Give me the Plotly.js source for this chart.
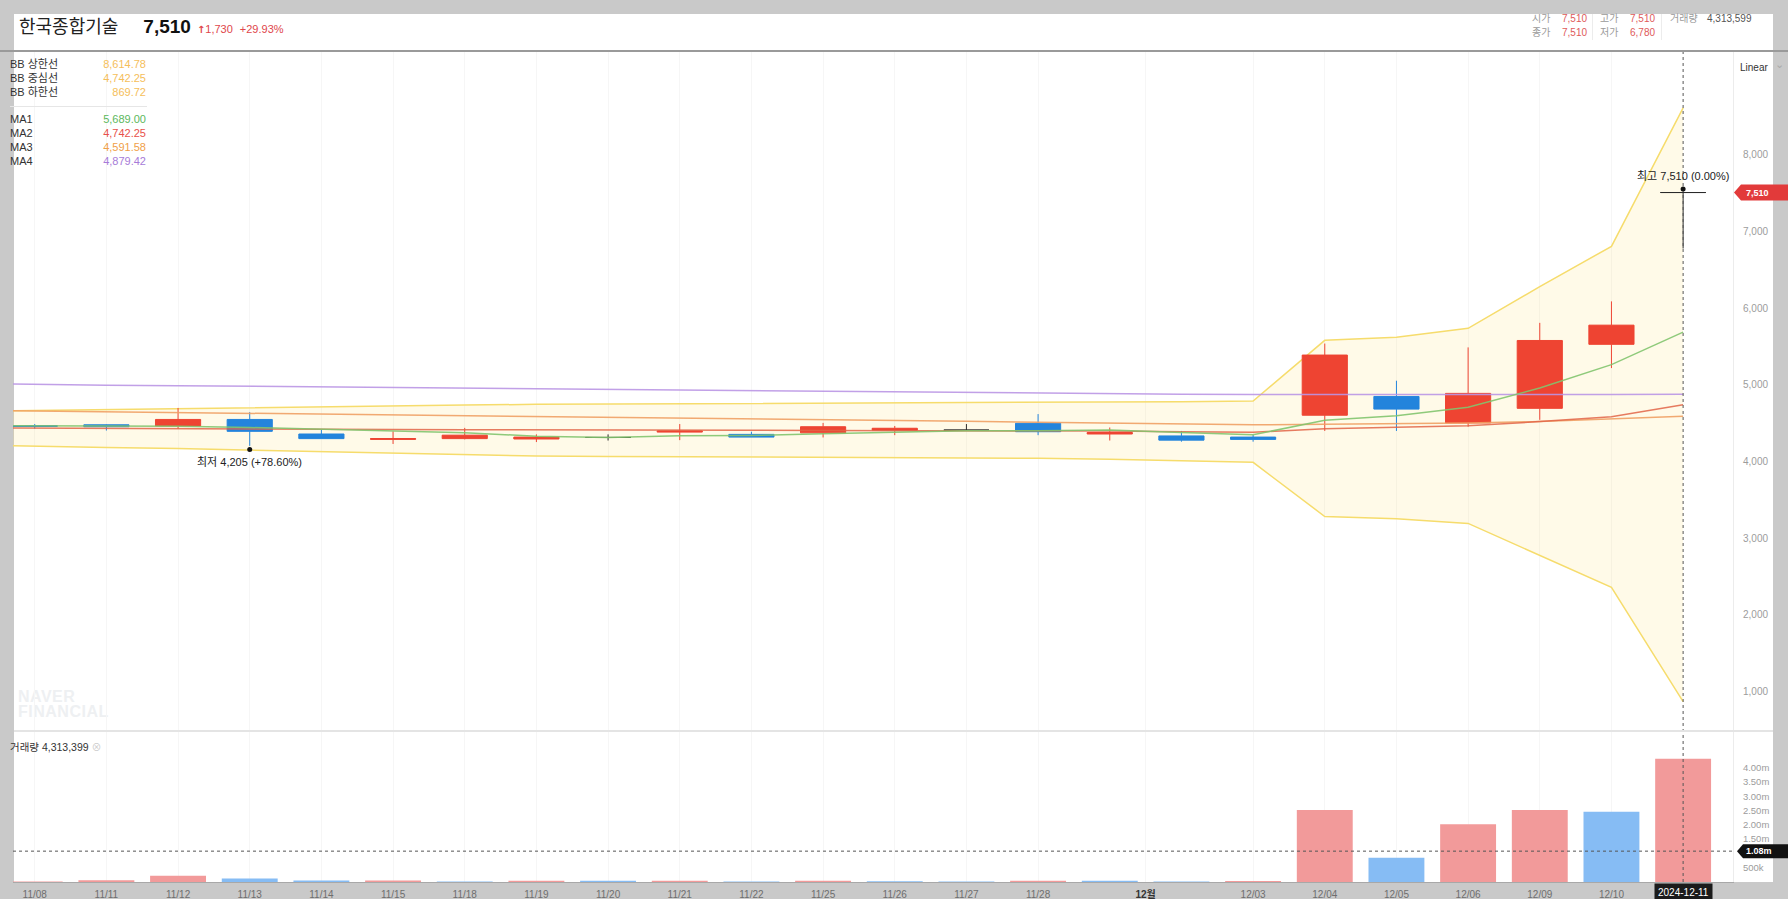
<!DOCTYPE html>
<html>
<head>
<meta charset="utf-8">
<script src="https://cdn.plot.ly/plotly-3.0.1.min.js"></script>
<style>
html,body{margin:0;padding:0;}
body{width:1788px;height:899px;background:#c9c9c9;position:relative;overflow:hidden;
  font-family:'Liberation Sans','Noto Sans CJK KR',Arial,sans-serif;}
#frame{position:absolute;left:14px;top:14px;width:1759px;height:868px;background:#fff;}
#chart{position:absolute;left:0;top:0;width:1788px;height:899px;z-index:2;}
.t{position:absolute;white-space:nowrap;pointer-events:none;z-index:5;}
#hdrline{position:absolute;left:0;top:50px;width:1788px;height:2px;background:#9a9a9a;z-index:4;}
#paneline{position:absolute;left:14px;top:730px;width:1759px;height:2px;background:#e4e4e4;z-index:4;}
#legsep{position:absolute;left:10px;top:106px;width:137px;height:1px;background:#e6e6e6;z-index:5;}
</style>
</head>
<body>
<div id="frame"></div>
<div id="chart"></div>
<div id="hdrline"></div>
<div id="paneline"></div>
<div id="legsep"></div>
<div id="texts"></div>
<script>
// ---------------- DATA ----------------
const stockName = '한국종합기술';
const lastPrice = '7,510';
const priceChange = '1,730';
const priceChangePct = '+29.93%';
const infoLabels = ['시가', '고가', '종가', '저가'];
const infoValues = ['7,510', '7,510', '7,510', '6,780'];
const infoVolumeLabel = '거래량';
const infoVolumeValue = '4,313,599';
const volumePaneTitle = '거래량 4,313,399';

const legendLabels = ['BB 상한선', 'BB 중심선', 'BB 하한선', 'MA1', 'MA2', 'MA3', 'MA4'];
const legendValues = ['8,614.78', '4,742.25', '869.72', '5,689.00', '4,742.25', '4,591.58', '4,879.42'];

const candleDates = ['11/08','11/11','11/12','11/13','11/14','11/15','11/18','11/19','11/20','11/21','11/22','11/25',
  '11/26','11/27','11/28','11/29','12/02','12/03','12/04','12/05','12/06','12/09','12/10','12/11'];
const openP  = [4470,4480,4465,4550,4360,4290,4300,4295,4315,4385,4355,4375,4410,4410,4500,4360,4335,4320,4605,4850,4505,4695,5530,7510];
const highP  = [4490,4485,4700,4645,4420,4395,4440,4355,4355,4490,4390,4505,4465,4490,4620,4445,4400,4350,5540,5055,5490,5810,6090,7510];
const lowP   = [4430,4405,4430,4205,4300,4230,4290,4255,4275,4280,4320,4315,4345,4405,4345,4275,4260,4260,4400,4400,4455,4545,5220,6780];
const closeP = [4460,4455,4550,4395,4300,4300,4345,4320,4315,4400,4320,4455,4435,4410,4390,4380,4280,4290,5390,4685,4890,5580,5780,7510];
const volume = [20000,60000,220000,120000,50000,55000,20000,45000,40000,45000,20000,45000,
  25000,20000,45000,40000,20000,35000,2520000,850000,2020000,2520000,2460000,4313599];

// indicator lines start one session earlier (11/07) so they reach the left edge
const lineDates = ['11/07'].concat(candleDates);
const bbUpper = [4655,4668,4680,4693,4705,4716,4727,4737,4747,4750,4753,4756,4759,4762,4765,4768,4775,4782,4790,5582,5621,5739,6282,6808,8615];
const bbLower = [4220,4200,4185,4170,4150,4125,4105,4085,4073,4068,4064,4060,4056,4052,4048,4043,4030,4010,3991,3284,3254,3194,2778,2360,870];
const ma1 = [4470,4468,4466,4462,4445,4420,4400,4378,4330,4316,4336,4340,4362,4385,4404,4402,4412,4379,4350,4539,4599,4708,4960,5265,5689];
const ma2 = [4440,4435,4432,4430,4427,4424,4420,4416,4412,4410,4409,4408,4407,4406,4405,4403,4398,4390,4382,4430,4445,4468,4522,4586,4742];
const ma3 = [4672,4662,4652,4642,4632,4622,4612,4603,4595,4583,4572,4560,4548,4536,4525,4513,4500,4490,4480,4487,4495,4505,4522,4555,4592];
const ma4 = [5020,5005,4997,4990,4982,4973,4965,4957,4948,4940,4931,4922,4913,4905,4897,4889,4883,4879,4876,4874,4873,4873,4875,4877,4879];

const xTickLabels = ['11/08','11/11','11/12','11/13','11/14','11/15','11/18','11/19','11/20','11/21','11/22','11/25',
  '11/26','11/27','11/28','12월','12/03','12/04','12/05','12/06','12/09','12/10'];
const monthMark = {label: '12월', between: ['11/29', '12/02']};
const lastDateLabel = '2024-12-11';
const priceTicks = [1000,2000,3000,4000,5000,6000,7000,8000];
const volTickVals = [500000,1500000,2000000,2500000,3000000,3500000,4000000];
const volTickText = ['500k','1.50m','2.00m','2.50m','3.00m','3.50m','4.00m'];
const crossVolume = 1080000;
const crossVolumeText = '1.08m';
const highLabel = '최고 7,510 (0.00%)';
const lowLabel = '최저 4,205 (+78.60%)';

// ---------------- STYLE ----------------
const RED = '#ee4432', BLUE = '#2384dc', FLAT = '#2b2b2b';
const VOL_RED = '#f29a9a', VOL_BLUE = '#86bcf4';
const legendColors = ['#f5be5a','#f5be5a','#f5be5a','#5cb85c','#e8504a','#f0a048','#a77bd8'];
const FONT = "'Liberation Sans','Noto Sans CJK KR',Arial,sans-serif";

// ---------------- HTML TEXTS ----------------
const T = document.getElementById('texts');
function addText(html, css) {
  const d = document.createElement('div');
  d.className = 't';
  d.innerHTML = html;
  Object.assign(d.style, css);
  T.appendChild(d);
  return d;
}
addText(
  '<span style="font-size:18px;color:#222;font-family:\'Noto Sans CJK KR\',sans-serif;">' + stockName + '</span>' +
  '<span style="font-size:19px;font-weight:bold;color:#111;margin-left:25px;">' + lastPrice + '</span>' +
  '<span style="font-size:11px;color:#e0464b;margin-left:6px;"><b style="font-family:DejaVu Sans;font-size:10px;">&#8593;</b>' + priceChange + '</span>' +
  '<span style="font-size:11px;color:#e0464b;margin-left:7px;">' + priceChangePct + '</span>',
  {left: '19px', top: '12px', lineHeight: '26px', display: 'flex', alignItems: 'baseline'});

// top-right info
const infoCols = [1532, 1600];
const infoRows = [19, 33];
const infoPos = [[0,0],[1,0],[0,1],[1,1]];
infoLabels.forEach((lab, i) => {
  const [c, r] = infoPos[i];
  addText(lab, {left: infoCols[c] + 'px', top: (infoRows[r] - 7) + 'px', fontSize: '10px', color: '#9a9a9a', lineHeight: '14px'});
  addText(infoValues[i], {left: (infoCols[c] + 30) + 'px', top: (infoRows[r] - 7) + 'px', fontSize: '10px', color: '#e05a5a', lineHeight: '14px'});
});
addText(infoVolumeLabel, {left: '1670px', top: '12px', fontSize: '10px', color: '#9a9a9a', lineHeight: '14px'});
addText(infoVolumeValue, {left: '1707px', top: '12px', fontSize: '10px', color: '#555', lineHeight: '14px'});
[1592, 1661].forEach(x => {
  addText('', {left: x + 'px', top: '14px', width: '1px', height: '26px', background: '#ececec'});
});

// legend block
const legendY = [64, 78, 92, 119, 133, 147, 161];
legendLabels.forEach((lab, i) => {
  addText(lab, {left: '10px', top: (legendY[i] - 7) + 'px', fontSize: '11px', color: '#333', lineHeight: '14px'});
  addText(legendValues[i], {left: '60px', width: '86px', textAlign: 'right', top: (legendY[i] - 7) + 'px',
    fontSize: '11px', color: legendColors[i], lineHeight: '14px'});
});

addText('Linear', {left: '1740px', top: '61px', fontSize: '10px', color: '#333', lineHeight: '14px'});
addText('&#8964;', {left: '1775px', top: '58px', fontSize: '11px', color: '#aaa', lineHeight: '14px', fontFamily: 'DejaVu Sans'});
addText(volumePaneTitle + ' <span style="color:#ccc;font-size:10px;">&#8855;</span>',
  {left: '10px', top: '740px', fontSize: '10.5px', color: '#333', lineHeight: '14px'});
addText('NAVER<br>FINANCIAL', {left: '18px', top: '689px', fontSize: '16px', fontWeight: 'bold', color: '#eef0f2',
  lineHeight: '15px', letterSpacing: '0.5px', zIndex: 1});

// ---------------- PLOTLY ----------------
const idx = candleDates.map((d, i) => i);
const lineX = lineDates.map((d, i) => i - 1);

function candleTrace(filterFn, color) {
  const sel = idx.filter(filterFn);
  return {
    type: 'candlestick', xaxis: 'x', yaxis: 'y3',
    x: sel, open: sel.map(i => openP[i]), high: sel.map(i => highP[i]),
    low: sel.map(i => lowP[i]), close: sel.map(i => closeP[i]),
    increasing: {line: {color: color, width: 1}, fillcolor: color},
    decreasing: {line: {color: color, width: 1}, fillcolor: color},
    whiskerwidth: 0, hoverinfo: 'skip', showlegend: false
  };
}
function lineTrace(vals, color, yaxis, extra) {
  return Object.assign({
    type: 'scatter', mode: 'lines', x: lineX, y: vals, xaxis: 'x', yaxis: yaxis,
    line: {color: color, width: 1.5}, hoverinfo: 'skip', showlegend: false
  }, extra || {});
}

const volColors = volume.map((v, i) => (i === 0 || v >= volume[i - 1]) ? VOL_RED : VOL_BLUE);

const traces = [
  lineTrace(bbLower, '#f6dc6c', 'y'),
  lineTrace(bbUpper, '#f6dc6c', 'y', {fill: 'tonexty', fillcolor: 'rgba(255,226,110,0.16)'}),
  candleTrace(i => closeP[i] > openP[i], RED),
  candleTrace(i => closeP[i] < openP[i], BLUE),
  candleTrace(i => closeP[i] === openP[i], FLAT),
  lineTrace(ma4, 'rgba(186,150,228,0.9)', 'y3'),
  lineTrace(ma3, 'rgba(240,160,100,0.9)', 'y3'),
  lineTrace(ma2, 'rgba(226,100,70,0.85)', 'y3'),
  lineTrace(ma1, 'rgba(130,196,110,0.9)', 'y3'),
  {type: 'bar', x: idx, y: volume, xaxis: 'x', yaxis: 'y2', width: 0.78,
   marker: {color: volColors, line: {width: 0}}, hoverinfo: 'skip', showlegend: false}
];

const tickVals = xTickLabels.map(l => l === monthMark.label
  ? (candleDates.indexOf(monthMark.between[0]) + candleDates.indexOf(monthMark.between[1])) / 2
  : candleDates.indexOf(l));
const tickText = xTickLabels.map(l => l === monthMark.label ? '<b style="color:#333">' + l + '</b>' : l);

const lastI = candleDates.length - 1;
const lowI = lowP.indexOf(Math.min.apply(null, lowP));
const highI = highP.indexOf(Math.max.apply(null, highP));
const PRANGE = [499, 9356];
const VRANGE = [0, 5.285e6];

const layout = {
  width: 1788, height: 899,
  margin: {l: 13, r: 55, t: 51, b: 17, pad: 0},
  paper_bgcolor: 'rgba(0,0,0,0)', plot_bgcolor: 'rgba(0,0,0,0)',
  font: {family: FONT, size: 10, color: '#999'},
  showlegend: false,
  boxgap: 0.37, boxgroupgap: 0,
  bargap: 0.22,
  xaxis: {
    range: [-0.303, 23.696], anchor: 'y2', tickmode: 'array', tickvals: tickVals, ticktext: tickText,
    rangeslider: {visible: false},
    showgrid: true, gridcolor: '#f6f6f6', gridwidth: 1, zeroline: false,
    showline: true, linecolor: '#a8a8a8', linewidth: 1,
    ticks: 'outside', ticklen: 3, tickcolor: 'rgba(0,0,0,0)',
    tickfont: {family: FONT, size: 10, color: '#6e6e6e'}, fixedrange: true
  },
  yaxis: {
    domain: [0.1829, 1], range: PRANGE, side: 'right', tickmode: 'array', tickvals: priceTicks,
    tickformat: ',d', showgrid: false, zeroline: false, showline: true, linecolor: '#ececec',
    ticks: 'outside', ticklen: 7, tickcolor: 'rgba(0,0,0,0)',
    tickfont: {family: FONT, size: 10, color: '#9c9c9c'}, fixedrange: true
  },
  yaxis3: {overlaying: 'y', range: PRANGE, side: 'right', showticklabels: false, showgrid: false,
    zeroline: false, showline: false, ticks: '', fixedrange: true},
  yaxis2: {
    domain: [0, 0.1817], range: VRANGE, side: 'right', tickmode: 'array', tickvals: volTickVals,
    ticktext: volTickText, showgrid: false, zeroline: false, showline: true, linecolor: '#ececec',
    ticks: 'outside', ticklen: 7, tickcolor: 'rgba(0,0,0,0)',
    tickfont: {family: FONT, size: 9.5, color: '#9c9c9c'}, fixedrange: true
  },
  shapes: [
    {type: 'line', xref: 'x', yref: 'paper', x0: lastI, x1: lastI, y0: 0, y1: 1,
     line: {color: '#555', width: 1, dash: 'dot'}, layer: 'above'},
    {type: 'line', xref: 'paper', yref: 'y2', x0: 0, x1: 1, y0: crossVolume, y1: crossVolume,
     line: {color: '#555', width: 1, dash: 'dot'}, layer: 'above'},
    {type: 'path', xref: 'paper', xanchor: 1, xsizemode: 'pixel', yref: 'y', yanchor: closeP[lastI], ysizemode: 'pixel',
     path: 'M 1 0 L 8 8 L 60 8 L 60 -8 L 8 -8 Z', fillcolor: '#e23a3a', line: {width: 0}, layer: 'above'},
    {type: 'path', xref: 'paper', xanchor: 1, xsizemode: 'pixel', yref: 'y2', yanchor: crossVolume, ysizemode: 'pixel',
     path: 'M 4 0 L 10 7 L 60 7 L 60 -7 L 10 -7 Z', fillcolor: '#111', line: {width: 0}, layer: 'above'},
    {type: 'circle', xref: 'x', yref: 'y3', xanchor: highI, yanchor: highP[highI], xsizemode: 'pixel', ysizemode: 'pixel',
     x0: -2.5, x1: 2.5, y0: 1, y1: 6, fillcolor: '#111', line: {width: 0}, layer: 'above'},
    {type: 'circle', xref: 'x', yref: 'y3', xanchor: lowI, yanchor: lowP[lowI], xsizemode: 'pixel', ysizemode: 'pixel',
     x0: -2.5, x1: 2.5, y0: -6, y1: -1, fillcolor: '#111', line: {width: 0}, layer: 'above'}
  ],
  annotations: [
    {xref: 'paper', x: 1, xanchor: 'left', xshift: 11, yref: 'y', y: closeP[lastI], yanchor: 'middle',
     text: '<b>' + lastPrice + '</b>', showarrow: false, font: {family: FONT, size: 9, color: '#fff'}},
    {xref: 'paper', x: 1, xanchor: 'left', xshift: 11, yref: 'y2', y: crossVolume, yanchor: 'middle',
     text: '<b>' + crossVolumeText + '</b>', showarrow: false, font: {family: FONT, size: 9, color: '#fff'}},
    {xref: 'x', x: lastI, yref: 'paper', y: 0, yanchor: 'top', yshift: -1, text: lastDateLabel, showarrow: false,
     bgcolor: '#1b1b1b', borderpad: 3, font: {family: FONT, size: 10, color: '#fff'}},
    {xref: 'x', x: highI, yref: 'y3', y: highP[highI], yshift: 17, text: highLabel, showarrow: false,
     font: {family: FONT, size: 11, color: '#222'}},
    {xref: 'x', x: lowI, yref: 'y3', y: lowP[lowI], yshift: -16, text: lowLabel, showarrow: false,
     font: {family: FONT, size: 11, color: '#222'}}
  ]
};

Plotly.newPlot('chart', traces, layout, {displayModeBar: false, staticPlot: true});
</script>
</body>
</html>
